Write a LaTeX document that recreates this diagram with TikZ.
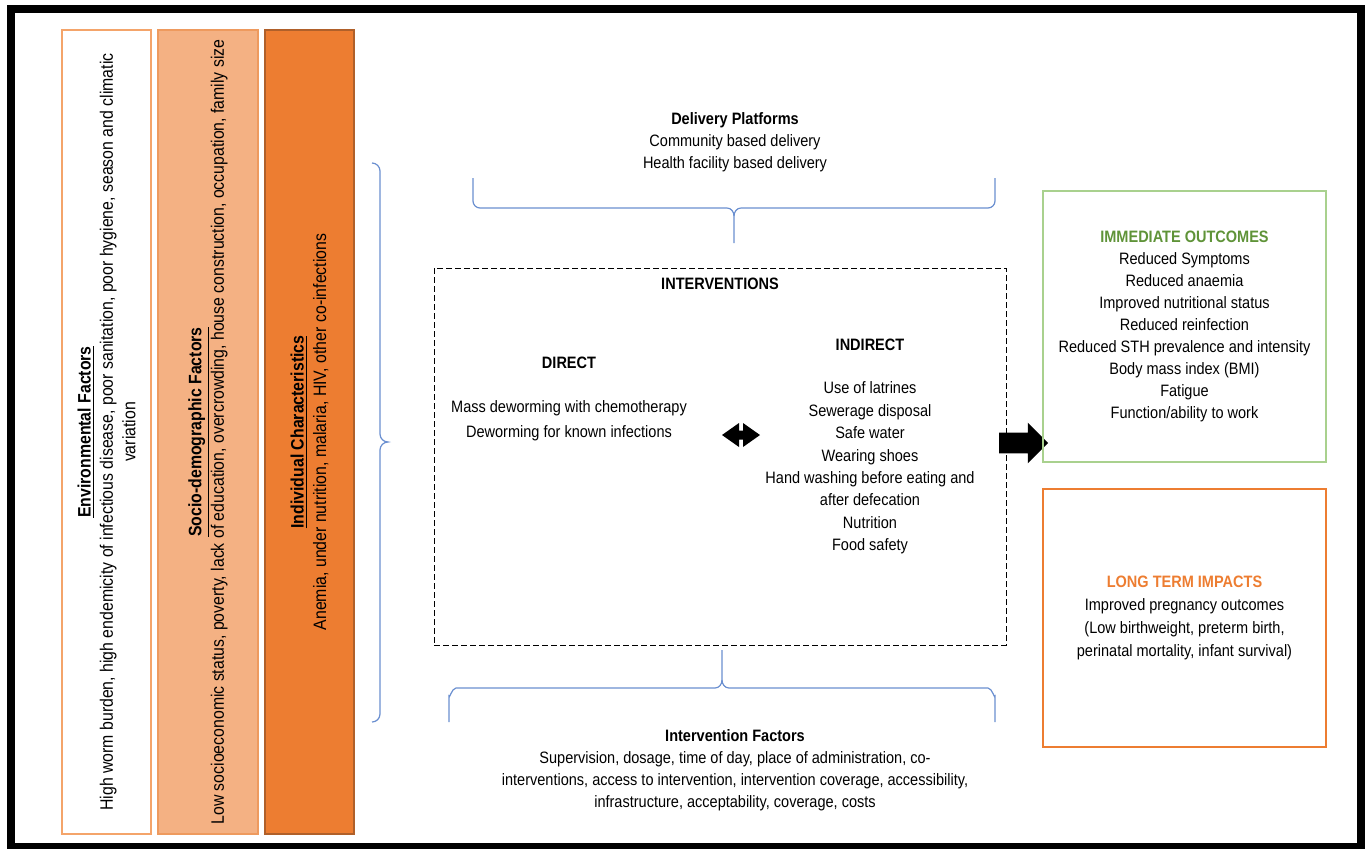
\documentclass[tikz,border=0pt]{standalone}
\usepackage{fontspec}
\setmainfont[FakeStretch=0.88]{Liberation Sans}
\usetikzlibrary{shapes.arrows}
\definecolor{orange2}{HTML}{F4A46A}
\definecolor{orange4}{HTML}{F4B183}
\definecolor{orange5}{HTML}{EE9A5E}
\definecolor{orange6}{HTML}{ED7D31}
\definecolor{orange8}{HTML}{B0602A}
\definecolor{green3}{HTML}{A9D18E}
\definecolor{green7}{HTML}{5F9338}
\definecolor{blue5}{HTML}{6A8FD0}

\begin{document}
\begin{tikzpicture}[x=0.5pt, y=-0.5pt, align=center,
  font=\fontsize{8.25}{11}\selectfont,
  factor/.style={rotate=90, minimum width=402pt, minimum height=44.5pt, inner sep=0pt, line width=0.6pt, font=\fontsize{9}{11.2}\selectfont},
  outcome/.style={minimum width=141.5pt, inner sep=0pt, line width=0.6pt},
  brace/.style={draw=blue5, line width=0.6pt},
  bigarrow/.style={fill=black, inner xsep=0pt}]
\useasboundingbox (0,0) rectangle (1372,848);
\draw[line width=4pt] (11,9) rectangle (1361,847);

\node[factor, draw=orange2, fill=white] (env) at (106.5,432) {\underline{\textbf{Environmental Factors}}\\High worm burden, high endemicity of infectious disease, poor sanitation, poor hygiene, season and climatic\\variation};
\node[factor, minimum height=50pt, draw=orange5, fill=orange4] (socio) at (208,432) {\underline{\textbf{Socio-demographic Factors}}\\Low socioeconomic status, poverty, lack of education, overcrowding, house construction, occupation, family size};
\node[factor, draw=orange8, fill=orange6] (indiv) at (309.5,432) {\underline{\textbf{Individual Characteristics}}\\Anemia, under nutrition, malaria, HIV, other co-infections};

\draw[brace] (372,163) to[out=0,in=90] (380,171) -- (380,434) to[out=-90,in=180] (388,442) to[out=180,in=90] (380,450) -- (380,714) to[out=-90,in=0] (372,722);

\node (deliv) at (735,142) {\textbf{Delivery Platforms}\\Community based delivery\\Health facility based delivery};
\draw[brace] (473,178) -- (473,201) to[out=-90,in=180] (480,208) -- (727,208) to[out=0,in=90] (734,216) -- (734,243);
\draw[brace] (734,216) to[out=90,in=180] (741,208) -- (988,208) to[out=0,in=-90] (995,201) -- (995,178);

\node[draw, dashed, dash pattern=on 3pt off 1.5pt, line width=0.5pt, minimum width=286pt, minimum height=188.5pt] (interv) at (720,456.5) {};
\node (intervtitle) at (720,284) {\textbf{INTERVENTIONS}};
\node (direct) at (569,363) {\textbf{DIRECT}};
\node[font=\fontsize{8.25}{12.5}\selectfont] (directlist) at (569,421) {Mass deworming with chemotherapy\\Deworming for known infections};
\node (indirect) at (870,345) {\textbf{INDIRECT}};
\node[font=\fontsize{8.25}{11.2}\selectfont] (indirectlist) at (870,468) {Use of latrines\\Sewerage disposal\\Safe water\\Wearing shoes\\Hand washing before eating and\\after defecation\\Nutrition\\Food safety};
\coordinate (both) at (741,435);
\fill[shift={(both)}] (-19,0) -- (-2,-12) -- (-2,-4.5) -- (2,-4.5) -- (2,-12) -- (19,0) -- (2,12) -- (2,4.5) -- (-2,4.5) -- (-2,12) -- cycle;

\draw[brace] (722,650) -- (722,680) to[out=-90,in=0] (715,688) -- (456,688) to[out=180,in=-90] (449,696) -- (449,722);
\draw[brace] (722,680) to[out=-90,in=180] (729,688) -- (988,688) to[out=0,in=-90] (995,696) -- (995,722);
\node (ifactors) at (735,770) {\textbf{Intervention Factors}\\Supervision, dosage, time of day, place of administration, co-\\interventions, access to intervention, intervention coverage, accessibility,\\infrastructure, acceptability, coverage, costs};

\node[bigarrow, single arrow, inner ysep=5pt, minimum height=24.5pt, single arrow head extend=5pt, single arrow tip angle=90] (toout) at (1018.5,443) {};

\node[outcome, draw=green3, minimum height=135.5pt] (imm) at (1184.5,326.5) {\textcolor{green7}{\textbf{IMMEDIATE OUTCOMES}}\\Reduced Symptoms\\Reduced anaemia\\Improved nutritional status\\Reduced reinfection\\Reduced STH prevalence and intensity\\Body mass index (BMI)\\Fatigue\\Function/ability to work};
\node[outcome, draw=orange6, minimum height=129pt, font=\fontsize{8.25}{11.5}\selectfont] (long) at (1184.5,618) {\textcolor{orange6}{\textbf{LONG TERM IMPACTS}}\\Improved pregnancy outcomes\\(Low birthweight, preterm birth,\\perinatal mortality, infant survival)};
\end{tikzpicture}
\end{document}
